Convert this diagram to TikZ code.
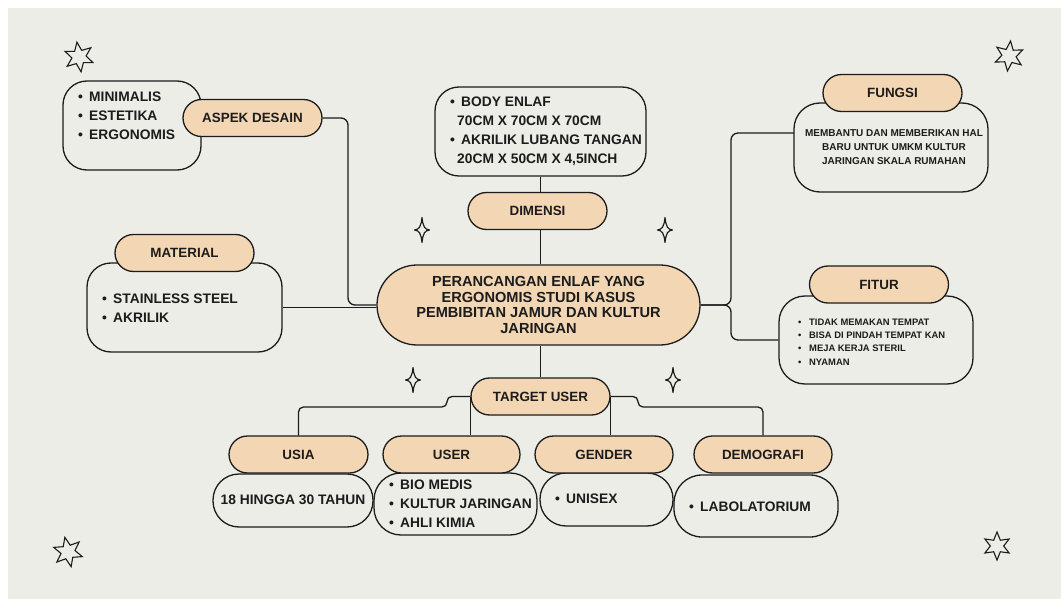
\documentclass[tikz,border=0pt]{standalone}
\usepackage{fontspec}
\setmainfont{Liberation Sans}
\usetikzlibrary{shapes.geometric,calc}
\definecolor{bgc}{HTML}{EDEDE8}
\definecolor{peach}{HTML}{F3D6B3}
\definecolor{ink}{HTML}{1C1C1C}
\newcommand{\bul}{\makebox[11pt][l]{\textbullet}}
\tikzset{
  lbl/.style={draw=ink, fill=peach, line width=1.3pt, rounded corners=18.5pt,
    minimum width=139pt, minimum height=37pt, inner sep=0pt,
    font=\fontsize{13.4}{16}\selectfont\bfseries, text=ink},
  box/.style={draw=ink, fill=bgc, line width=1.3pt, inner sep=0pt},
  conn/.style={draw=ink, line width=1.3pt, rounded corners=7pt},
  txt/.style={inner sep=0pt, align=left, text=ink, font=\fontsize{13.8}{19}\selectfont\bfseries},
  spark/.style={draw=ink, line width=1.2pt, line join=round},
  starn/.style={draw=ink, line width=1.1pt, star, star points=6, star point ratio=2.1,
    minimum size=30pt, inner sep=0pt},
  sparkle/.pic={\draw[spark] (0,-12.5) .. controls (1,-3) and (3,-0.5) .. (7.5,0)
     .. controls (3,0.5) and (1,3) .. (0,12.5)
     .. controls (-1,3) and (-3,0.5) .. (-7.5,0)
     .. controls (-3,-0.5) and (-1,-3) .. (0,-12.5) -- cycle;}
}
\begin{document}
\begin{tikzpicture}[x=1pt,y=-1pt]
\useasboundingbox (0,0) rectangle (1061,599);
\fill[white] (0,0) rectangle (1061,599);
\fill[bgc] (8,8) rectangle (1061,599);

% boxes
\node[box, rounded corners=24pt, minimum width=138pt, minimum height=89pt] (aspekbox) at (132,125.5) {};
\node[box, rounded corners=24pt, minimum width=195pt, minimum height=89pt] (matbox) at (184.5,307.5) {};
\node[box, rounded corners=24pt, minimum width=211pt, minimum height=89pt] (dimbox) at (540.5,131.5) {};
\node[box, rounded corners=26pt, minimum width=194pt, minimum height=89pt] (fungsibox) at (891,147.5) {};
\node[box, rounded corners=26pt, minimum width=194pt, minimum height=88pt] (fiturbox) at (876,340) {};
\node[box, rounded corners=26pt, minimum width=160pt, minimum height=53pt] (usiabox) at (293,500.5) {};
\node[box, rounded corners=27pt, minimum width=163pt, minimum height=62pt] (userbox) at (455.5,504) {};
\node[box, rounded corners=26pt, minimum width=133pt, minimum height=53pt] (genderbox) at (606.5,499.5) {};
\node[box, rounded corners=28pt, minimum width=164pt, minimum height=62pt] (demobox) at (756,506) {};

% labels
\node[lbl] (aspeklbl) at (252.5,118) {ASPEK DESAIN};
\node[lbl] (matlbl) at (184.5,253) {MATERIAL};
\node[lbl] (dimlbl) at (537.5,211) {DIMENSI};
\node[lbl] (fungsilbl) at (892.5,93) {FUNGSI};
\node[lbl] (fiturlbl) at (879,284.5) {FITUR};
\node[lbl] (target) at (540.5,396.5) {TARGET USER};
\node[lbl] (usialbl) at (298.5,454.5) {USIA};
\node[lbl, minimum width=137pt] (userlbl) at (451.5,454.5) {USER};
\node[lbl, minimum width=138pt] (genderlbl) at (604,454.5) {GENDER};
\node[lbl, minimum width=138pt] (demolbl) at (763,454.5) {DEMOGRAFI};
\node[lbl, minimum width=323pt, minimum height=80pt, rounded corners=40pt, align=center,
  font=\fontsize{14.6}{15.7}\selectfont\bfseries] (center) at (538.5,305)
  {PERANCANGAN ENLAF YANG\\ERGONOMIS STUDI KASUS\\PEMBIBITAN JAMUR DAN KULTUR\\JARINGAN};

% texts
\node[txt, anchor=west] (aspektxt) at (78,116) {\bul MINIMALIS\\\bul ESTETIKA\\\bul ERGONOMIS};
\node[txt, anchor=west] (mattxt) at (102,308) {\bul STAINLESS STEEL\\\bul AKRILIK};
\node[txt, anchor=west] (dimtxt) at (450,131.5) {\bul BODY ENLAF\\\hspace*{7pt}70CM X 70CM X 70CM\\\bul AKRILIK LUBANG TANGAN\\\hspace*{7pt}20CM X 50CM X 4,5INCH};
\node[txt, align=center, font=\fontsize{10}{14}\selectfont\bfseries] (fungsitxt) at (894,147)
  {MEMBANTU DAN MEMBERIKAN HAL\\BARU UNTUK UMKM KULTUR\\JARINGAN SKALA RUMAHAN};
\node[txt, anchor=west, font=\fontsize{9.4}{13.4}\selectfont\bfseries] (fiturtxt) at (798,342)
  {\bul TIDAK MEMAKAN TEMPAT\\\bul BISA DI PINDAH TEMPAT KAN\\\bul MEJA KERJA STERIL\\\bul NYAMAN};
\node[txt, align=center] (usiatxt) at (293,500) {18 HINGGA 30 TAHUN};
\node[txt, anchor=west] (usertxt) at (389,504) {\bul BIO MEDIS\\\bul KULTUR JARINGAN\\\bul AHLI KIMIA};
\node[txt, anchor=west] (gendertxt) at (555,499) {\bul UNISEX};
\node[txt, anchor=west] (demotxt) at (689,507) {\bul LABOLATORIUM};

% connectors
\coordinate (aj) at (348,118);
\draw[conn] (aspeklbl.east) -- (aj) -- (aj |- center.west) -- (center.west);
\draw[conn] (matbox.east) -- (matbox.east -| center.west);
\draw[conn] (dimbox.south) -- (dimbox.south |- dimlbl.north);
\draw[conn] (dimlbl.south -| dimbox.south) -- (dimbox.south |- center.north);
\coordinate (fj) at (731,305);
\coordinate (fa) at (794,133);
\draw[conn] (center.east) -- (fj) -- (fj |- fa) -- (fa);
\draw[conn] (center.east) -- (fj) -- (fj |- fiturbox.west) -- (fiturbox.west);
\draw[conn] (center.south -| target.north) -- (target.north);
\coordinate (tl1) at (447,396.5);
\coordinate (tl2) at (447,407);
\coordinate (tr1) at (638,396.5);
\coordinate (tr2) at (638,407);
\draw[conn, rounded corners=5pt] (target.west) -- (tl1) -- (tl2) -- (tl2 -| usialbl.north) -- (usialbl.north);
\draw[conn] (target.west) -- (target.west |- userlbl.north);
\draw[conn, rounded corners=5pt] (target.east) -- (tr1) -- (tr2) -- (tr2 -| demolbl.north) -- (demolbl.north);
\draw[conn] (target.east) -- (target.east |- genderlbl.north);

% sparkles
\pic at (422,230) {sparkle};
\pic at (665,230) {sparkle};
\pic at (413,380) {sparkle};
\pic at (673,380) {sparkle};

% stars
\node[starn, rotate=8] (s1) at (79,57) {};
\node[starn, rotate=-6] (s2) at (1009,56) {};
\node[starn, rotate=12] (s3) at (68,552) {};
\node[starn, rotate=0, minimum size=28pt] (s4) at (997,546) {};
\end{tikzpicture}
\end{document}
